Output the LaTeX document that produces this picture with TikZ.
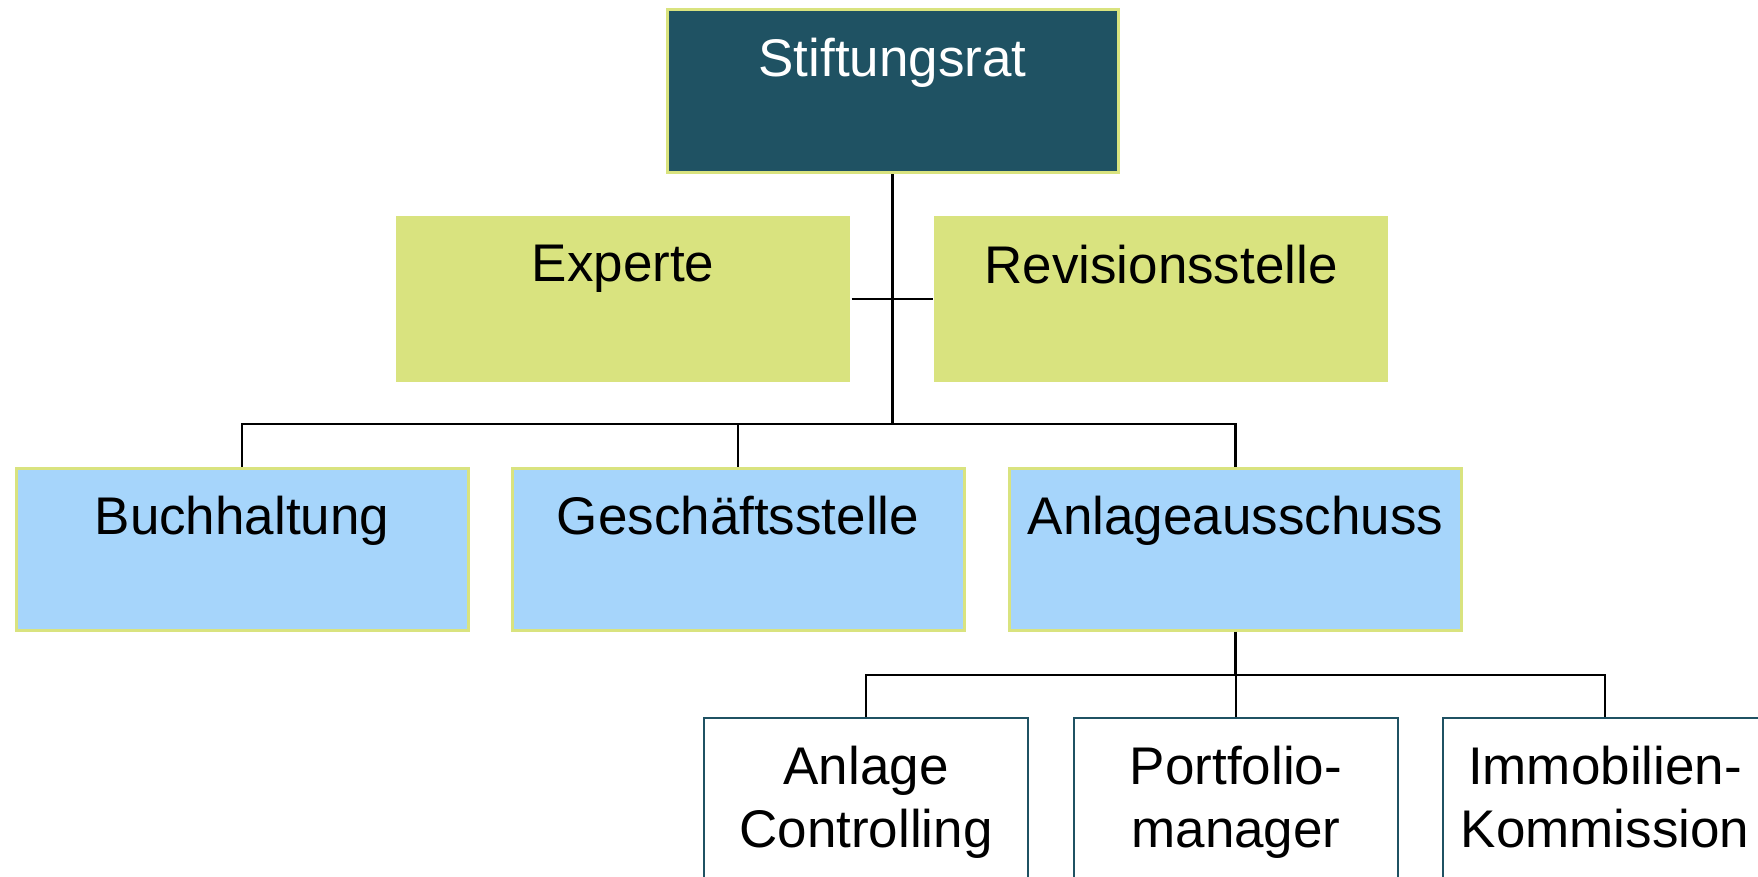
\documentclass[tikz,border=0pt]{standalone}
\usepackage{fontspec}
\setmainfont{Liberation Sans}
\definecolor{teal}{HTML}{1F5263}
\definecolor{lime}{HTML}{D9E37F}
\definecolor{sky}{HTML}{A6D5FB}
\tikzset{
  box/.style={rectangle, inner sep=0pt, line width=3pt},
  topbox/.style={box, fill=teal, draw=lime, minimum width=451pt, minimum height=163pt},
  midbox/.style={box, fill=lime, minimum width=454pt, minimum height=166pt},
  bluebox/.style={box, fill=sky, draw=lime, minimum width=452pt, minimum height=162pt},
  lowbox/.style={box, fill=white, draw=teal, line width=2.5pt, minimum width=324pt, minimum height=180pt},
  txt/.style={anchor=north, inner sep=0pt, align=center, font=\fontsize{53}{63}\selectfont},
  conn/.style={line width=2.8pt, draw=black}
}
\begin{document}
\begin{tikzpicture}[x=1pt,y=-1pt]
\useasboundingbox (0,0) rectangle (1758,877);
\clip (0,0) rectangle (1758,877);
\fill[white] (0,0) rectangle (1758,877);
% connectors
\coordinate (bus1) at (892.5,424);
\coordinate (bus2) at (1235.5,675);
% boxes
\node[topbox] (srat) at (892.5,91.5) {};
\node[midbox] (exp) at (623,299) {};
\node[midbox] (rev) at (1161,299) {};
\node[bluebox] (buch) at (242,549) {};
\node[bluebox] (gesch) at (738,549) {};
\node[bluebox] (anl) at (1235.5,549) {};
\node[lowbox] (ctrl) at (866,808) {};
\node[lowbox] (port) at (1236,808) {};
\node[lowbox] (immo) at (1605,808) {};
\draw[conn] (srat.south) -- (bus1);
\draw[conn] (exp.east) -- (rev.west);
\draw[conn] (buch.north) |- (bus1) -| (anl.north);
\draw[conn] (gesch.north) -- (gesch.north |- bus1);
\draw[conn] (anl.south) -- (bus2);
\draw[conn] (ctrl.north) |- (bus2) -| (immo.north);
\draw[conn] (port.north) -- (port.north |- bus2);
% texts
\node[txt, text=white] (tsrat) at ([yshift=-29.5pt]srat.north) {Stiftungsrat};
\node[txt] (texp) at ([yshift=-30.5pt]exp.north) {Experte};
\node[txt] (trev) at ([yshift=-30.5pt]rev.north) {Revisionsstelle};
\node[txt] (tbuch) at ([yshift=-29.5pt]buch.north) {Buchhaltung};
\node[txt] (tgesch) at ([yshift=-29.5pt]gesch.north) {Geschäftsstelle};
\node[txt] (tanl) at ([yshift=-29.5pt]anl.north) {Anlageausschuss};
\node[txt] (tctrl) at ([yshift=-29.5pt]ctrl.north) {Anlage\\Controlling};
\node[txt] (tport) at ([yshift=-29.5pt]port.north) {Portfolio-\\manager};
\node[txt] (timmo) at ([yshift=-29.5pt]immo.north) {Immobilien-\\Kommission};
\end{tikzpicture}
\end{document}
